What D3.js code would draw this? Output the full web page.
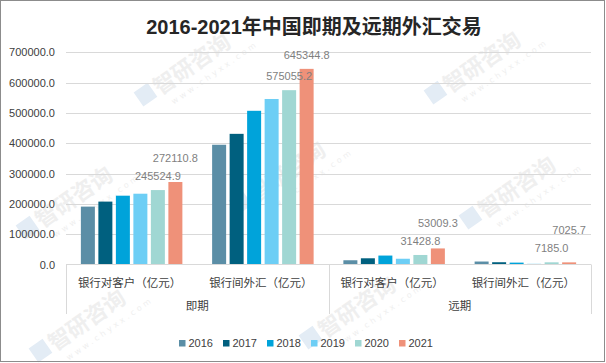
<!DOCTYPE html>
<html>
<head>
<meta charset="utf-8">
<script src="https://cdn.jsdelivr.net/npm/d3@7"></script>
<style>
    body { margin: 0; background: #fff; }
    svg { display: block; }
</style>
</head>
<body>
<svg id="chart" width="606" height="363"></svg>
<script>
// values (亿元)
const groups = ["即期", "远期"];
const categories = ["银行对客户（亿元）", "银行间外汇（亿元）"];
const years = ["2016", "2017", "2018", "2019", "2020", "2021"];
const colors = ["#5b8ea6", "#00607f", "#00a3da", "#6dcef5", "#a0d7d3", "#ef9179"];

// one row per year, order: 即期/银行对客户, 即期/银行间外汇, 远期/银行对客户, 远期/银行间外汇
const spotClient = [191000, 207500, 227000, 233500, 245524.9, 272110.8];
const spotInterbank = [395000, 431000, 507000, 546000, 575055.2, 645344.8];
const fwdClient = [14000, 20500, 29500, 19000, 31428.8, 53009.3];
const fwdInterbank = [9800, 7500, 6200, 2300, 7185.0, 7025.7];
const labelledYears = ["2020", "2021"];

const yTicks = [0, 100000, 200000, 300000, 400000, 500000, 600000, 700000];

const svg = d3.select("#chart");
const plot = { left: 66, right: 591, top: 52.3, bottom: 264.5 };

const cats = [];
groups.forEach((g) => categories.forEach((c) => cats.push({ group: g, cat: c, key: g + "|" + c })));
const series = [spotClient, spotInterbank, fwdClient, fwdInterbank];
cats.forEach((c, i) => {
    c.values = years.map((y, j) => ({ year: y, value: series[i][j], color: colors[j] }));
});

// watermark, kept inside the frame
const wm = svg.append("g").attr("class", "watermark").style("pointer-events", "none");
[[180, 82], [470, 80], [275, 190], [505, 205], [62, 215], [345, 325], [75, 338]].forEach(([x, y]) => {
    const g = wm.append("g").attr("transform", `translate(${x},${y}) rotate(-35)`);
    g.append("rect").attr("x", -44).attr("y", -18).attr("width", 17).attr("height", 17)
        .attr("fill", "#e3ecf5");
    g.append("text").attr("x", -24).attr("y", 0)
        .attr("font-family", "Noto Sans CJK SC").attr("font-size", 22).attr("font-weight", "bold")
        .attr("fill", "#efefef").text("智研咨询");
    g.append("text").attr("x", -18).attr("y", 15)
        .attr("font-family", "DejaVu Sans").attr("font-size", 8).attr("letter-spacing", 3)
        .attr("fill", "#efefef").text("www.chyxx.com");
});

// border
svg.append("rect").attr("x", 0.5).attr("y", 0.5).attr("width", 604).attr("height", 361)
    .attr("fill", "none").attr("stroke", "#8c8c8c");

// title
svg.append("text")
    .attr("x", 314).attr("y", 34)
    .attr("text-anchor", "middle")
    .attr("font-family", "'Liberation Sans', 'Noto Sans CJK SC', sans-serif")
    .attr("font-size", 20).attr("font-weight", "bold")
    .attr("fill", "#262626")
    .text("2016-2021年中国即期及远期外汇交易");

const y = d3.scaleLinear().domain([0, 700000]).range([plot.bottom, plot.top]);
const x0 = d3.scaleBand().domain(cats.map((c) => c.key)).range([plot.left, plot.right]).padding(0);
const x1 = d3.scaleBand().domain(years).range([0, x0.bandwidth()]).paddingInner(0.2).paddingOuter(0.85);

// gridlines + y labels
svg.append("g")
    .selectAll("line")
    .data(yTicks.filter((t) => t > 0))
    .join("line")
    .attr("x1", plot.left).attr("x2", plot.right)
    .attr("y1", (d) => Math.round(y(d)) + 0.5).attr("y2", (d) => Math.round(y(d)) + 0.5)
    .attr("stroke", "#d9d9d9");

svg.append("g")
    .selectAll("text")
    .data(yTicks)
    .join("text")
    .attr("x", 55).attr("y", (d) => y(d) + 4)
    .attr("text-anchor", "end")
    .attr("font-family", "'Liberation Sans', sans-serif").attr("font-size", 11)
    .attr("fill", "#404040")
    .text((d) => d3.format(".1f")(d));

// bars
const catG = svg.append("g")
    .selectAll("g")
    .data(cats)
    .join("g")
    .attr("transform", (d) => `translate(${x0(d.key)},0)`);

catG.selectAll("rect")
    .data((d) => d.values)
    .join("rect")
    .attr("x", (d) => x1(d.year))
    .attr("width", x1.bandwidth())
    .attr("y", (d) => y(d.value))
    .attr("height", (d) => y(0) - y(d.value))
    .attr("fill", (d) => d.color);

// data labels, 2021 lifted above 2020 label when they would collide
catG.each(function (c) {
    let prev = null;
    c.values.filter((v) => labelledYears.includes(v.year)).forEach((v) => {
        let cy = y(v.value) - 14;
        if (prev !== null) cy = Math.min(cy, prev - 18);
        prev = cy;
        d3.select(this).append("text")
            .attr("x", x1(v.year) + x1.bandwidth() / 2)
            .attr("y", cy + 4)
            .attr("text-anchor", "middle")
            .attr("font-family", "'Liberation Sans', sans-serif").attr("font-size", 11)
            .attr("fill", "#7f7f7f")
            .text(d3.format(".1f")(v.value));
    });
});

// category axis
const axisG = svg.append("g");
axisG.append("line")
    .attr("x1", plot.left).attr("x2", plot.right)
    .attr("y1", 264.5).attr("y2", 264.5)
    .attr("stroke", "#d9d9d9");

const sepX = [plot.left, x0(cats[2].key), plot.right];
axisG.selectAll("line.sep")
    .data(sepX)
    .join("line")
    .attr("class", "sep")
    .attr("x1", (d) => Math.round(d) + 0.5).attr("x2", (d) => Math.round(d) + 0.5)
    .attr("y1", 264.5).attr("y2", 314)
    .attr("stroke", "#d9d9d9");

axisG.selectAll("text.cat")
    .data(cats)
    .join("text")
    .attr("class", "cat")
    .attr("x", (d) => x0(d.key) + x0.bandwidth() / 2 - 2)
    .attr("y", 286.5)
    .attr("text-anchor", "middle")
    .attr("font-family", "'Noto Sans CJK SC', sans-serif").attr("font-size", 11.5)
    .attr("fill", "#404040")
    .text((d) => d.cat);

axisG.selectAll("text.grp")
    .data(groups)
    .join("text")
    .attr("class", "grp")
    .attr("x", (d) => {
        const ks = cats.filter((c) => c.group === d).map((c) => x0(c.key));
        return (d3.min(ks) + d3.max(ks) + x0.bandwidth()) / 2;
    })
    .attr("y", 310)
    .attr("text-anchor", "middle")
    .attr("font-family", "'Noto Sans CJK SC', sans-serif").attr("font-size", 11.5)
    .attr("fill", "#404040")
    .text((d) => d);

// legend
const legend = svg.append("g").attr("transform", "translate(179,340)");
const item = legend.selectAll("g")
    .data(years)
    .join("g")
    .attr("transform", (d, i) => `translate(${i * 44},0)`);
item.append("rect").attr("width", 6.5).attr("height", 6.5).attr("fill", (d, i) => colors[i]);
item.append("text")
    .attr("x", 9.5).attr("y", 7)
    .attr("font-family", "'Liberation Sans', sans-serif").attr("font-size", 11)
    .attr("fill", "#404040")
    .text((d) => d);
</script>
</body>
</html>
